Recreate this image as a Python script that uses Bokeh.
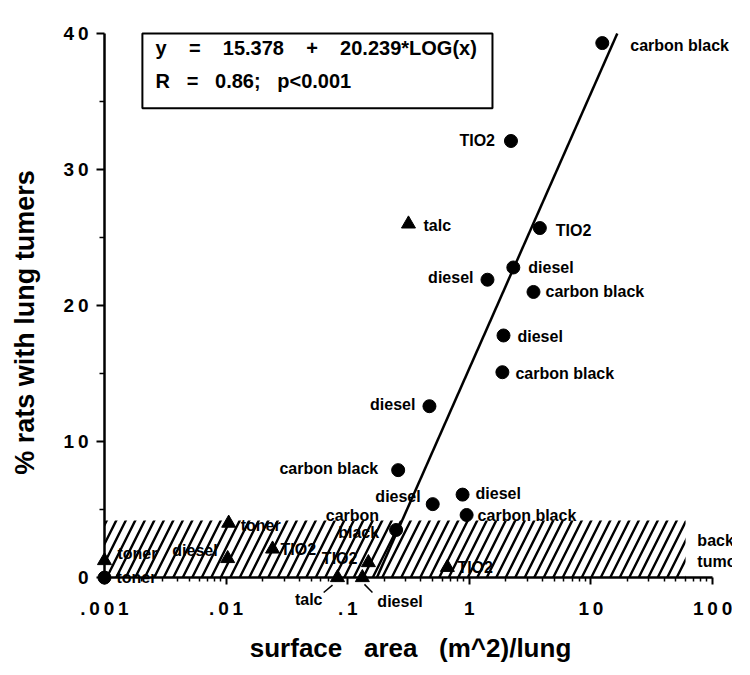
import numpy as np
from bokeh.plotting import figure
from bokeh.models import ColumnDataSource, FixedTicker, Range1d, Label, BoxAnnotation
from bokeh.core.properties import value
from bokeh.embed import file_html
from bokeh.resources import INLINE

FONT = "Liberation Sans"

# ---------------------------------------------------------------------------
# Data: lung particle surface-area dose vs. tumour incidence in rats
# ---------------------------------------------------------------------------
# studies drawn as filled circles
circle_area = [12.4, 2.2, 3.8, 2.3, 1.41, 3.37, 1.91, 1.87, 0.47, 0.26, 0.50, 0.88, 0.95, 0.25, 0.001]
circle_tumors = [39.3, 32.1, 25.7, 22.8, 21.9, 21.0, 17.8, 15.1, 12.6, 7.9, 5.4, 6.1, 4.6, 3.5, 0.0]
circle_particle = ["carbon black", "TIO2", "TIO2", "diesel", "diesel", "carbon black", "diesel",
                   "carbon black", "diesel", "carbon black", "diesel", "diesel", "carbon black",
                   "carbon\nblack", "toner"]

# studies drawn as filled triangles
triangle_area = [0.316, 0.0105, 0.0103, 0.0241, 0.001, 0.148, 0.66, 0.0824, 0.132]
triangle_tumors = [26.0, 4.0, 1.4, 2.1, 1.25, 1.1, 0.75, 0.0, 0.0]
triangle_particle = ["talc", "toner", "diesel", "TIO2", "toner", "TIO2", "TIO2", "talc", "diesel"]

# log-linear regression of all studies
fit_intercept = 15.378
fit_slope = 20.239
fit_r = 0.86

# spontaneous (background) tumour rate band
background_rate = 4.2
background_area = [0.001, 60]

x_ticks = [0.001, 0.01, 0.1, 1, 10, 100]
x_tick_labels = [".001", ".01", ".1", "1", "10", "100"]
y_ticks = [0, 10, 20, 30, 40]
y_minor_ticks = [5, 15, 25, 35]

# label placement (screen pixels relative to the point)
circle_dx = [28, -16, 16, 15, -14, 12, 14, 13, -14, -20, -12, 13, 11, -17, 12]
circle_dy = [2, 0, 2, 0, -2, 0, 1, 1, -2, -2, -8, -1, 0, -6, 0]
circle_align = ["left", "right", "left", "left", "right", "left", "left", "left",
                "right", "right", "right", "left", "left", "right", "left"]
triangle_dx = [15, 12, -10, 8, 13, -11, 10, -15, 15]
triangle_dy = [2, 2, -8, 0, -7, -4, 0, 22, 24]
triangle_align = ["left", "left", "right", "left", "left", "right", "left", "right", "left"]


def spaced(s):
    return "\u2009".join(s)


def gap(n):
    return "\u00a0" * n


# the frame fills the whole canvas; axes are pinned at the data origin
p = figure(width=732, height=675, x_axis_type="log",
           x_range=Range1d(10 ** -3.855, 10 ** 2.164), y_range=Range1d(-7.2, 42.43),
           output_backend="svg", toolbar_location=None,
           min_border_left=0, min_border_right=0, min_border_top=0, min_border_bottom=0)
p.outline_line_color = None
p.grid.visible = False
p.background_fill_color = "white"

p.xaxis.fixed_location = 0
p.yaxis.fixed_location = x_ticks[0]
p.xaxis.bounds = (x_ticks[0], x_ticks[-1])
p.yaxis.bounds = (y_ticks[0], y_ticks[-1])

x_minor = [k * t for t in x_ticks[:-1] for k in range(2, 10)]
p.xaxis.ticker = FixedTicker(ticks=x_ticks, minor_ticks=x_minor)
p.yaxis.ticker = FixedTicker(ticks=y_ticks, minor_ticks=y_minor_ticks)
p.xaxis.major_label_overrides = {t: spaced(l) for t, l in zip(x_ticks, x_tick_labels)}
p.yaxis.major_label_overrides = {t: spaced(str(t)) for t in y_ticks}

for ax in (p.xaxis, p.yaxis):
    ax.axis_line_width = 2.5
    ax.axis_line_color = "black"
    ax.major_tick_line_width = 2
    ax.minor_tick_line_width = 1.5
    ax.major_tick_in = 0
    ax.minor_tick_in = 0
    ax.major_label_text_font = FONT
    ax.major_label_text_font_style = "bold"
    ax.major_label_text_font_size = "19px"
    ax.major_label_text_color = "black"

p.xaxis.major_tick_out = 7
p.xaxis.minor_tick_out = 4
p.xaxis.major_label_standoff = 13
p.yaxis.major_tick_out = 8
p.yaxis.minor_tick_out = 5
p.yaxis.major_label_standoff = 8

# axis titles
title_style = dict(text_font=FONT, text_font_style="bold", text_color="black",
                   text_align="center", text_baseline="middle")
p.add_layout(Label(x=0.3284, y=-5.2, text_font_size="26px",
                   text="surface" + gap(3) + "area" + gap(3) + "(m^2)/lung", **title_style))
p.add_layout(Label(x=0.000224, y=18.75, angle=np.pi / 2, text_font_size="27px",
                   text="%\u00a0rats\u00a0with\u00a0lung\u00a0tumers", **title_style))

# background tumour band
p.quad(left=[background_area[0]], right=[background_area[1]], bottom=[0], top=[background_rate],
       fill_color=None, line_color=None, hatch_pattern="/", hatch_scale=19,
       hatch_weight=2.4, hatch_color="black")
note_style = dict(text_font=FONT, text_font_style="bold", text_font_size="16px",
                  text_color="black", text_baseline="middle")
p.add_layout(Label(x=75, y=2.7, text="background", **note_style))
p.add_layout(Label(x=75, y=1.2, text="tumors", **note_style))

# regression line  y = a + b*log10(x), from y = 0 up to the top tick
fit_x = np.array([10 ** ((y_ticks[0] - fit_intercept) / fit_slope),
                  10 ** ((y_ticks[-1] - fit_intercept) / fit_slope)])
fit_y = fit_intercept + fit_slope * np.log10(fit_x)
p.line(fit_x, fit_y, line_color="black", line_width=2.5)

circles = ColumnDataSource(dict(x=circle_area, y=circle_tumors, name=circle_particle,
                                dx=circle_dx, dy=circle_dy, align=circle_align))
triangles = ColumnDataSource(dict(x=triangle_area, y=triangle_tumors, name=triangle_particle,
                                  dx=triangle_dx, dy=triangle_dy, align=triangle_align))

# short leader strokes for the two labels set below the axis
talc0, diesel0 = triangle_area[7], triangle_area[8]
p.segment(x0=[talc0 * 0.77, diesel0 * 1.04], y0=[-1.1, -0.5],
          x1=[talc0 * 0.91, diesel0 * 1.21], y1=[-0.55, -1.1],
          line_color="black", line_width=1.5)

p.scatter("x", "y", source=circles, marker="circle", size=13, fill_color="black", line_color="black")
p.scatter("x", "y", source=triangles, marker="triangle", size=14, fill_color="black", line_color="black")

for src in (circles, triangles):
    p.text("x", "y", text="name", source=src, x_offset="dx", y_offset="dy",
           text_align="align", text_baseline="middle", text_font=value(FONT),
           text_font_style="bold", text_font_size="16px", text_color="black",
           text_line_height=1.05)

# regression statistics box
p.add_layout(BoxAnnotation(left=0.00205, right=1.55, bottom=34.5, top=40.0,
                           fill_color="white", fill_alpha=1, line_color="black",
                           line_alpha=1, line_width=2))
eq_text = ("y" + gap(4) + "=" + gap(4) + "{:.3f}".format(fit_intercept) + gap(4) + "+"
           + gap(4) + "{:.3f}*LOG(x)".format(fit_slope))
r_text = "R" + gap(3) + "=" + gap(3) + "{:.2f};".format(fit_r) + gap(3) + "p<0.001"
box_style = dict(text_font=FONT, text_font_style="bold", text_font_size="20px",
                 text_color="black", text_baseline="middle")
p.add_layout(Label(x=0.00263, y=38.97, text=eq_text, **box_style))
p.add_layout(Label(x=0.00263, y=36.54, text=r_text, **box_style))

open("out.html", "w").write(file_html(p, INLINE))
